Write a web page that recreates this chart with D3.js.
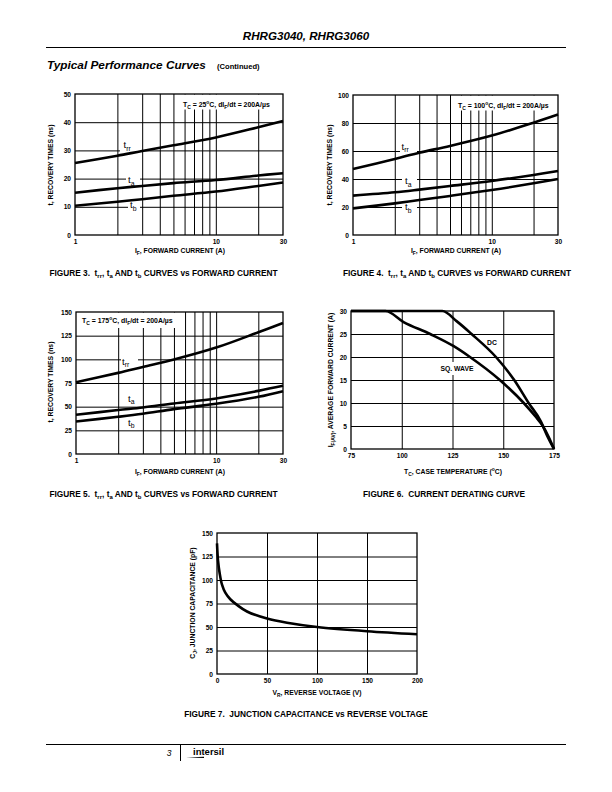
<!DOCTYPE html>
<html><head><meta charset="utf-8">
<script src="https://cdn.jsdelivr.net/npm/d3@7"></script>
<style>
html,body{margin:0;padding:0;background:#fff;}
svg{display:block;font-family:"Liberation Sans",Arial,Helvetica,sans-serif;}
text{white-space:pre;}
</style></head>
<body>
<svg id="page" width="612" height="792"></svg>
<script>
// ---------------- DATA ----------------
const forwardCurrent = [1, 2, 3, 5, 10, 20, 30];
const logGridValues = [2, 3, 4, 5, 6, 7, 8, 9, 10, 20];
const logTickLabels = [1, 10, 30];

const fig3Trr = [25.5, 28.1, 29.8, 31.8, 34.6, 38.2, 40.4];
const fig3Ta  = [15.0, 16.6, 17.4, 18.4, 19.5, 21.1, 21.9];
const fig3Tb  = [10.4, 11.8, 12.7, 13.9, 15.4, 17.4, 18.6];
const fig3YTicks = [0, 10, 20, 30, 40, 50];

const fig4Trr = [47.1, 54.3, 58.8, 63.6, 71.0, 80.2, 86.0];
const fig4Ta  = [28.1, 30.5, 32.4, 35.0, 38.6, 42.9, 45.7];
const fig4Tb  = [19.0, 22.6, 25.0, 27.9, 32.1, 36.9, 40.0];
const fig4YTicks = [0, 20, 40, 60, 80, 100];

const fig5Trr = [75.9, 85.7, 92.0, 99.8, 112.4, 128.6, 138.4];
const fig5Ta  = [41.4, 46.4, 49.2, 53.4, 58.7, 66.7, 72.0];
const fig5Tb  = [34.4, 39.3, 42.5, 47.4, 53.0, 60.4, 66.4];
const fig5YTicks = [0, 25, 50, 75, 100, 125, 150];

const dcTemp    = [75, 120, 127, 134.4, 146.4, 155.4, 162.5, 168.5, 171.5, 175];
const dcCurrent = [30, 30, 27.8, 25.0, 20.0, 15.0, 10.0, 6.0, 3.0, 0];
const sqTemp    = [75, 92, 100.9, 114, 125.4, 133.6, 148.3, 160.1, 166, 169.5, 172.5, 175];
const sqCurrent = [30, 30, 27.6, 25.0, 22.4, 20.0, 15.0, 10.0, 7.0, 5.0, 2.5, 0];
const fig6TempTicks = [75, 100, 125, 150, 175];
const fig6CurrentTicks = [0, 5, 10, 15, 20, 25, 30];

const reverseVoltage = [0, 1, 2.7, 5, 8.3, 13.3, 20, 30, 50, 70, 100, 150, 200];
const junctionCap    = [139, 121, 107, 95, 86.5, 79.5, 73.5, 66.5, 59, 54.5, 50, 45.5, 42.3];
const fig7VoltTicks = [0, 50, 100, 150, 200];
const fig7CapTicks = [0, 25, 50, 75, 100, 125, 150];

// ---------------- HELPERS ----------------
const svg = d3.select('#page');
svg.append('rect').attr('width', 612).attr('height', 792).attr('fill', '#fff');

function rich(sel, parts, fs) {
  let shift = 0;
  parts.forEach(([t, k]) => {
    const target = k === 'sub' ? fs * 0.3 : (k === 'sup' ? -fs * 0.42 : 0);
    const ts = sel.append('tspan').attr('dy', (target - shift).toFixed(2)).text(t);
    if (k !== 'n') ts.attr('font-size', (fs * 0.72).toFixed(2));
    shift = target;
  });
  return sel;
}
function txt(x, y, fs, opts = {}) {
  const t = svg.append('text').attr('x', x).attr('y', y)
    .attr('font-size', fs).attr('font-weight', opts.weight || 'bold')
    .attr('text-anchor', opts.anchor || 'start').attr('fill', '#000');
  if (opts.italic) t.attr('font-style', 'italic');
  if (opts.rotate) t.attr('transform', `rotate(-90,${x},${y})`);
  return t;
}

function drawChart(cfg) {
  const g = svg.append('g');
  const w = cfg.x1 - cfg.x0, h = cfg.y1 - cfg.y0;
  const x = cfg.x, y = cfg.y;

  const gx = g.append('g').attr('transform', `translate(0,${cfg.y1})`)
    .call(d3.axisBottom(x).tickValues(cfg.xGrid).tickSize(-h).tickFormat(''));
  const gy = g.append('g').attr('transform', `translate(${cfg.x0},0)`)
    .call(d3.axisLeft(y).tickValues(cfg.yGrid).tickSize(-w).tickFormat(''));
  [gx, gy].forEach(a => {
    a.select('.domain').remove();
    a.selectAll('line').attr('stroke', '#000').attr('stroke-width', 1);
  });

  (cfg.covers || []).forEach(c => {
    g.append('rect').attr('x', c[0]).attr('y', c[1]).attr('width', c[2]).attr('height', c[3]).attr('fill', '#fff');
  });

  g.append('rect').attr('x', cfg.x0).attr('y', cfg.y0).attr('width', w).attr('height', h)
    .attr('fill', 'none').attr('stroke', '#000').attr('stroke-width', 1.3);

  cfg.series.forEach(s => {
    const line = d3.line().x((d, i) => x(s.xs[i])).y(d => y(d)).curve(cfg.curve || d3.curveCatmullRom.alpha(0.5));
    g.append('path').attr('d', line(s.ys)).attr('fill', 'none')
      .attr('stroke', '#000').attr('stroke-width', 2.6).attr('stroke-linejoin', 'round');
  });

  const ax = g.append('g').attr('transform', `translate(0,${cfg.y1})`)
    .call(d3.axisBottom(x).tickValues(cfg.xTicks).tickSize(0).tickPadding(cfg.xPad || 4).tickFormat(d3.format('d')));
  const ay = g.append('g').attr('transform', `translate(${cfg.x0},0)`)
    .call(d3.axisLeft(y).tickValues(cfg.yTicks).tickSize(0).tickPadding(4).tickFormat(d3.format('d')));
  [ax, ay].forEach(a => {
    a.select('.domain').remove();
    a.selectAll('text').attr('font-size', 6.6).attr('font-weight', 'bold')
      .attr('font-family', '"Liberation Sans",Arial,sans-serif').attr('fill', '#000');
  });
  return g;
}

// ---------------- PAGE HEADER ----------------
txt(306, 40, 11.6, { italic: true, anchor: 'middle' }).text('RHRG3040, RHRG3060');
svg.append('line').attr('x1', 46).attr('x2', 566).attr('y1', 47.5).attr('y2', 47.5).attr('stroke', '#000').attr('stroke-width', 1);
txt(47, 69, 11.8, { italic: true }).text('Typical Performance Curves');
txt(217, 68.5, 7.6).text('(Continued)');

const LBL = 9.5;
// ---------------- FIGURE 3 ----------------
{
  const b = { x0: 75, x1: 283, y0: 94, y1: 235 };
  const x = d3.scaleLog().domain([1, 30]).range([b.x0, b.x1]);
  const y = d3.scaleLinear().domain([0, 50]).range([b.y1, b.y0]);
  drawChart(Object.assign({}, b, {
    x, y, xGrid: logGridValues, yGrid: fig3YTicks.slice(1, -1), xTicks: logTickLabels, yTicks: fig3YTicks,
    covers: [[179, 94.5, 103.5, 15], [120, 142, 20, 10], [126, 175, 14, 9], [128, 203, 12, 8]],
    series: [{ xs: forwardCurrent, ys: fig3Trr }, { xs: forwardCurrent, ys: fig3Ta }, { xs: forwardCurrent, ys: fig3Tb }]
  }));
  rich(txt(183, 107, 6.9), [['T','n'],['C','sub'],[' = 25','n'],['o','sup'],['C, dI','n'],['F','sub'],['/dt = 200A/µs','n']], 6.9);
  rich(txt(123.5, 148, LBL, { weight: 'normal' }), [['t','n'],['rr','sub']], LBL);
  rich(txt(128, 183, LBL, { weight: 'normal' }), [['t','n'],['a','sub']], LBL);
  rich(txt(130, 208, LBL, { weight: 'normal' }), [['t','n'],['b','sub']], LBL);
  rich(txt(53, 165, 6.8, { anchor: 'middle', rotate: true }), [['t, RECOVERY TIMES (ns)','n']], 6.8);
  rich(txt(180, 253, 6.8, { anchor: 'middle' }), [['I','n'],['F','sub'],[', FORWARD CURRENT (A)','n']], 6.8);
  rich(txt(163.5, 276, 8.3, { anchor: 'middle' }), [['FIGURE 3.  t','n'],['rr','sub'],[', t','n'],['a','sub'],[' AND t','n'],['b','sub'],[' CURVES vs FORWARD CURRENT','n']], 8.3);
}

// ---------------- FIGURE 4 ----------------
{
  const b = { x0: 353, x1: 558, y0: 95, y1: 235 };
  const x = d3.scaleLog().domain([1, 30]).range([b.x0, b.x1]);
  const y = d3.scaleLinear().domain([0, 100]).range([b.y1, b.y0]);
  drawChart(Object.assign({}, b, {
    x, y, xGrid: logGridValues, yGrid: fig4YTicks.slice(1, -1), xTicks: logTickLabels, yTicks: fig4YTicks,
    covers: [[454, 95.5, 103.5, 15], [400, 143, 17, 10], [402, 175, 15, 9], [402, 203, 15, 9]],
    series: [{ xs: forwardCurrent, ys: fig4Trr }, { xs: forwardCurrent, ys: fig4Ta }, { xs: forwardCurrent, ys: fig4Tb }]
  }));
  rich(txt(458, 108, 6.9), [['T','n'],['C','sub'],[' = 100','n'],['o','sup'],['C, dI','n'],['F','sub'],['/dt = 200A/µs','n']], 6.9);
  rich(txt(401.5, 149.5, LBL, { weight: 'normal' }), [['t','n'],['rr','sub']], LBL);
  rich(txt(405, 184, LBL, { weight: 'normal' }), [['t','n'],['a','sub']], LBL);
  rich(txt(405, 210, LBL, { weight: 'normal' }), [['t','n'],['b','sub']], LBL);
  rich(txt(332, 165, 6.8, { anchor: 'middle', rotate: true }), [['t, RECOVERY TIMES (ns)','n']], 6.8);
  rich(txt(456, 253, 6.8, { anchor: 'middle' }), [['I','n'],['F','sub'],[', FORWARD CURRENT (A)','n']], 6.8);
  rich(txt(457, 276, 8.3, { anchor: 'middle' }), [['FIGURE 4.  t','n'],['rr','sub'],[', t','n'],['a','sub'],[' AND t','n'],['b','sub'],[' CURVES vs FORWARD CURRENT','n']], 8.3);
}

// ---------------- FIGURE 5 ----------------
{
  const b = { x0: 76, x1: 283, y0: 312, y1: 454 };
  const x = d3.scaleLog().domain([1, 30]).range([b.x0, b.x1]);
  const y = d3.scaleLinear().domain([0, 150]).range([b.y1, b.y0]);
  drawChart(Object.assign({}, b, {
    x, y, xGrid: logGridValues, yGrid: fig5YTicks.slice(1, -1), xTicks: logTickLabels, yTicks: fig5YTicks,
    covers: [[76.5, 312.5, 103.5, 15.5], [121, 355, 17, 9]],
    series: [{ xs: forwardCurrent, ys: fig5Trr }, { xs: forwardCurrent, ys: fig5Ta }, { xs: forwardCurrent, ys: fig5Tb }]
  }));
  rich(txt(82, 323, 6.9), [['T','n'],['C','sub'],[' = 175','n'],['o','sup'],['C, dI','n'],['F','sub'],['/dt = 200A/µs','n']], 6.9);
  rich(txt(122, 364.5, LBL, { weight: 'normal' }), [['t','n'],['rr','sub']], LBL);
  rich(txt(128, 401.5, LBL, { weight: 'normal' }), [['t','n'],['a','sub']], LBL);
  rich(txt(128, 425.5, LBL, { weight: 'normal' }), [['t','n'],['b','sub']], LBL);
  rich(txt(53, 382, 6.8, { anchor: 'middle', rotate: true }), [['t, RECOVERY TIMES (ns)','n']], 6.8);
  rich(txt(180, 474, 6.8, { anchor: 'middle' }), [['I','n'],['F','sub'],[', FORWARD CURRENT (A)','n']], 6.8);
  rich(txt(163.5, 497, 8.3, { anchor: 'middle' }), [['FIGURE 5.  t','n'],['rr','sub'],[', t','n'],['a','sub'],[' AND t','n'],['b','sub'],[' CURVES vs FORWARD CURRENT','n']], 8.3);
}

// ---------------- FIGURE 6 ----------------
{
  const b = { x0: 351, x1: 554, y0: 311, y1: 449 };
  const x = d3.scaleLinear().domain([75, 175]).range([b.x0, b.x1]);
  const y = d3.scaleLinear().domain([0, 30]).range([b.y1, b.y0]);
  drawChart(Object.assign({}, b, {
    x, y, xGrid: fig6TempTicks.slice(1, -1), yGrid: fig6CurrentTicks.slice(1, -1), xTicks: fig6TempTicks, yTicks: fig6CurrentTicks, xPad: 4.5,
    covers: [[439, 362, 37, 13]], curve: d3.curveMonotoneX,
    series: [{ xs: dcTemp, ys: dcCurrent }, { xs: sqTemp, ys: sqCurrent }]
  }));
  txt(487, 345, 6.8).text('DC');
  txt(457, 371, 6.8, { anchor: 'middle' }).text('SQ. WAVE');
  rich(txt(333, 380, 6.8, { anchor: 'middle', rotate: true }), [['I','n'],['F(AV)','sub'],[', AVERAGE FORWARD CURRENT (A)','n']], 6.8);
  rich(txt(453, 473.5, 6.8, { anchor: 'middle' }), [['T','n'],['C','sub'],[', CASE TEMPERATURE (','n'],['o','sup'],['C)','n']], 6.8);
  txt(444, 497, 8.3, { anchor: 'middle' }).text('FIGURE 6.  CURRENT DERATING CURVE');
}

// ---------------- FIGURE 7 ----------------
{
  const b = { x0: 217, x1: 417, y0: 533, y1: 674 };
  const x = d3.scaleLinear().domain([0, 200]).range([b.x0, b.x1]);
  const y = d3.scaleLinear().domain([0, 150]).range([b.y1, b.y0]);
  drawChart(Object.assign({}, b, {
    x, y, xGrid: fig7VoltTicks.slice(1, -1), yGrid: fig7CapTicks.slice(1, -1), xTicks: fig7VoltTicks, yTicks: fig7CapTicks, xPad: 4,
    curve: d3.curveCatmullRom.alpha(0.5),
    series: [{ xs: reverseVoltage, ys: junctionCap }]
  }));
  rich(txt(195, 603, 6.8, { anchor: 'middle', rotate: true }), [['C','n'],['J','sub'],[', JUNCTION CAPACITANCE (pF)','n']], 6.8);
  rich(txt(317, 694.5, 6.8, { anchor: 'middle' }), [['V','n'],['R','sub'],[', REVERSE VOLTAGE (V)','n']], 6.8);
  txt(306, 717, 8.3, { anchor: 'middle' }).text('FIGURE 7.  JUNCTION CAPACITANCE vs REVERSE VOLTAGE');
}

// ---------------- FOOTER ----------------
svg.append('line').attr('x1', 46).attr('x2', 566).attr('y1', 744.5).attr('y2', 744.5).attr('stroke', '#000').attr('stroke-width', 1);
svg.append('line').attr('x1', 180.5).attr('x2', 180.5).attr('y1', 745).attr('y2', 761).attr('stroke', '#000').attr('stroke-width', 1);
txt(169, 756, 8.5, { italic: true, weight: 'normal', anchor: 'middle' }).text('3');
txt(193, 755, 9.5).text('intersil');
svg.append('path').attr('d', 'M186,757.5 L204,756.8 L204,758 Z').attr('fill', '#000');
</script>
</body></html>
